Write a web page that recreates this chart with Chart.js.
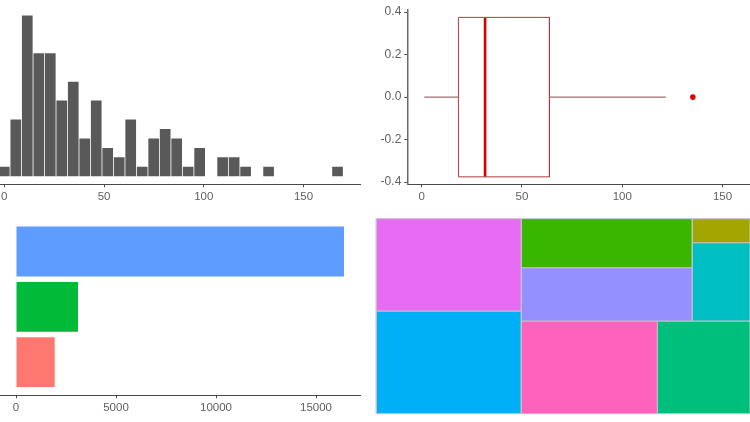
<!DOCTYPE html>
<html>
<head>
<meta charset="utf-8">
<style>
html,body{margin:0;padding:0;background:#fff;width:750px;height:422px;overflow:hidden}
canvas{position:absolute;display:block}
</style>
<script src="https://cdn.jsdelivr.net/npm/chart.js@4"></script>
</head>
<body>
<canvas id="hist" width="375" height="211" style="left:0;top:0"></canvas>
<canvas id="box" width="375" height="211" style="left:375px;top:0"></canvas>
<canvas id="bars" width="375" height="211" style="left:0;top:211px"></canvas>
<canvas id="tree" width="375" height="211" style="left:375px;top:211px"></canvas>
<script>
// Histogram
const histCenters = [0,5.76,11.52,17.28,23.04,28.8,34.56,40.32,46.08,51.84,57.6,63.36,69.12,74.88,80.64,86.4,92.16,97.92,103.68,109.44,115.2,120.96,126.72,132.48,138.24,144,149.76,155.52,161.28,167.04];
const histCounts = [1,6,17,13,13,8,10,4,8,3,2,6,1,4,5,4,1,3,0,2,2,1,0,1,0,0,0,0,0,1];
const xTicksDist = [0,50,100,150];
// Box plot
const boxStats = [1.3,18.3,31.6,63.7,121.7]; // min, q1, median, q3, max
const boxOutliers = [135.2];
const boxHalfHeight = [0.375];
const yTicksBox = [-0.4,-0.2,0,0.2,0.4];
// Horizontal bars
const barValues = [16400,3100,1935];
const barPositions = [3,2,1];
const barColors = ['#5f9cff','#00ba38','#ff7870'];
const xTicksBars = [0,5000,10000,15000];
// Treemap
const tileValues = {violet:13356,blue:14860,green:8379,purple:9114,olive:1392,teal:4541,pink:12635,emerald:8593};
const tileColors = {violet:'#e76bf3',blue:'#00b0f6',green:'#39b600',purple:'#9590ff',olive:'#a3a500',teal:'#00bfc4',pink:'#ff62bc',emerald:'#00bf7d'};
const tileTree = [['violet','blue'],[[['green','purple'],['olive','teal']],['pink','emerald']]];

const FONT = {family:'"Liberation Sans", Arial, sans-serif', size:11.5};
const FONT_Y = {family:'"Liberation Sans", Arial, sans-serif', size:12};
const AXIS = '#4a4a4a', LABEL = '#5f5f5f';
Chart.defaults.animation = false;
Chart.defaults.responsive = false;
Chart.defaults.plugins.legend.display = false;
Chart.defaults.plugins.tooltip.enabled = false;

function bottomAxis(min,max,ticks,height){
  return {type:'linear',min,max,offset:false,
    afterBuildTicks:s=>{s.ticks=ticks.map(v=>({value:v}))},
    afterFit:s=>{s.height=height;s.paddingLeft=0;s.paddingRight=0},
    border:{color:AXIS,width:1},
    grid:{offset:false,drawOnChartArea:false,drawTicks:true,tickLength:3,tickColor:AXIS},
    ticks:{font:FONT,color:LABEL,padding:3,maxRotation:0,autoSkip:false,callback:v=>String(v)}};
}

new Chart(document.getElementById('hist'),{
  type:'bar',
  data:{datasets:[{data:histCenters.map((x,i)=>({x,y:histCounts[i]})),backgroundColor:'#595959',
    barPercentage:0.93,categoryPercentage:1}]},
  options:{layout:{autoPadding:false,padding:{top:7.4,right:15,left:0,bottom:0}},
    scales:{x:bottomAxis(-2.16,178.3,xTicksDist,26.7),
      y:{display:false,min:-0.85,max:17.85}}}
});

const [bMin,q1,med,q3,bMax]=boxStats, h=boxHalfHeight[0];
const ln=(pts,color,w)=>({data:pts,showLine:true,borderColor:color,borderWidth:w,pointRadius:0,fill:false,tension:0});
new Chart(document.getElementById('box'),{
  type:'scatter',
  data:{datasets:[
    ln([{x:bMin,y:0},{x:q1,y:0}],'#a56c72',1.3),
    ln([{x:q3,y:0},{x:bMax,y:0}],'#a56c72',1.3),
    ln([{x:q1,y:-h},{x:q1,y:h},{x:q3,y:h},{x:q3,y:-h},{x:q1,y:-h}],'#ad3a40',1),
    ln([{x:med,y:-h},{x:med,y:h}],'#d40000',2.6),
    {data:boxOutliers.map(x=>({x,y:0})),pointRadius:2.8,pointBackgroundColor:'#e00000',pointBorderWidth:0,showLine:false}
  ]},
  options:{layout:{autoPadding:false,padding:{top:8,right:0,left:0,bottom:0}},
    scales:{x:bottomAxis(-7.18,163.7,xTicksDist,26.7),
      y:{type:'linear',min:-0.41,max:0.4088,
        afterBuildTicks:s=>{s.ticks=yTicksBox.map(v=>({value:v}))},
        afterFit:s=>{s.width=32.3},
        border:{color:'#6a6a6a',width:1.5},
        grid:{drawOnChartArea:false,drawTicks:true,tickLength:3,tickColor:AXIS},
        ticks:{font:FONT_Y,color:LABEL,padding:3,autoSkip:false,callback:v=>v.toFixed(1)}}}}
});

new Chart(document.getElementById('bars'),{
  type:'bar',
  data:{datasets:[{data:barValues.map((x,i)=>({x,y:barPositions[i]})),backgroundColor:barColors,
    barPercentage:0.9,categoryPercentage:1}]},
  options:{indexAxis:'y',layout:{autoPadding:false,padding:{top:7.3,right:15,left:0,bottom:0}},
    scales:{x:bottomAxis(-800,17200,xTicksBars,26.7),
      y:{type:'linear',display:false,offset:false,grid:{offset:false},min:0.4,max:3.6,
        afterBuildTicks:s=>{s.ticks=barPositions.map(v=>({value:v}))}}}}
});

// Alternating slice layout computed from the tile values only.
function total(n){return typeof n==='string'?tileValues[n]:n.reduce((a,c)=>a+total(c),0)}
function layout(n,x0,x1,y0,y1,horizontal,out){
  if(typeof n==='string'){out.push({name:n,x0,x1,y0,y1});return out}
  const t=total(n);let pos=horizontal?x0:y1;
  n.forEach(c=>{const f=total(c)/t;
    if(horizontal){const e=pos+(x1-x0)*f;layout(c,pos,e,y0,y1,false,out);pos=e}
    else{const e=pos-(y1-y0)*f;layout(c,x0,x1,e,pos,true,out);pos=e}});
  return out;
}
const tiles=layout(tileTree,0,1,0,1,true,[]);
new Chart(document.getElementById('tree'),{
  type:'scatter',
  data:{datasets:tiles.map(t=>({
    data:[{x:t.x0,y:t.y0},{x:t.x1,y:t.y0},{x:t.x1,y:t.y1},{x:t.x0,y:t.y1},{x:t.x0,y:t.y0}],
    showLine:true,fill:'shape',backgroundColor:tileColors[t.name],borderColor:'#c4bfca',borderWidth:1,
    pointRadius:0,tension:0,clip:false}))},
  options:{layout:{autoPadding:false,padding:{top:7.7,right:0,left:1.3,bottom:8.3}},
    plugins:{filler:{propagate:false}},
    scales:{x:{type:'linear',display:false,min:0,max:1},y:{type:'linear',display:false,min:0,max:1}}}
});
</script>
</body>
</html>
